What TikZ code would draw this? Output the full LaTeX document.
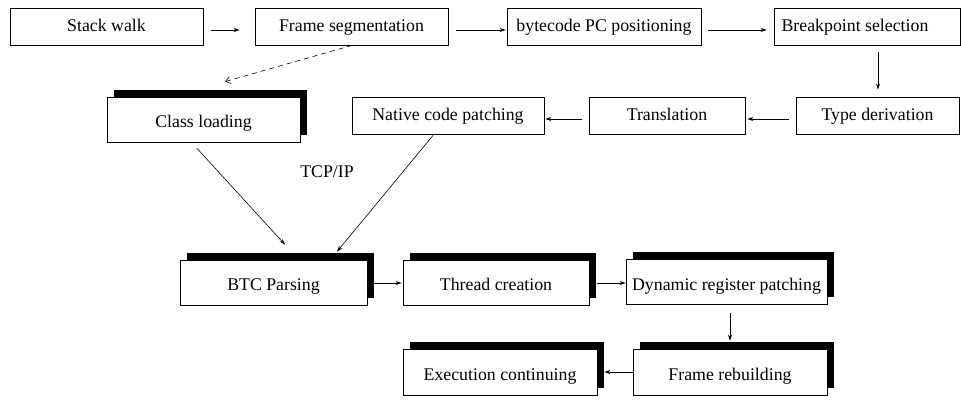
\documentclass[tikz,border=0pt]{standalone}
\usepackage{fontspec}
\setmainfont{Liberation Serif}
\newfontfamily\tms{Liberation Serif}
\usetikzlibrary{arrows.meta,shadows,calc}
\begin{document}
\begin{tikzpicture}[x=1pt,y=-1pt,
  txt/.style={font=\tms\fontsize{17.8}{20}\selectfont, text height=12pt, text depth=3pt},
  box/.style={txt, draw, line width=0.8pt, fill=white, rectangle, minimum height=37pt, inner sep=0pt},
  sbox/.style={box, minimum height=45pt, text height=16pt, text depth=0pt, general shadow={fill=black, shadow xshift=7pt, shadow yshift=7.5pt}},
  arr/.style={-{Stealth[length=6pt,width=4pt]}, line width=0.6pt},
  darr/.style={dashed, dash pattern=on 5pt off 4pt, -{Straight Barb[length=5pt,width=7pt]}, line width=0.6pt}]
\useasboundingbox (0,0) rectangle (961,399);
% top row
\node[box, minimum width=193pt] (stack) at (106.5,26.5) {Stack walk};
\node[box, minimum width=193pt] (frame) at (351.5,26.5) {Frame segmentation};
\node[box, minimum width=194pt] (bpc) at (604,26.5) {bytecode PC positioning};
\node[box, minimum width=186pt] (brk) at (867,26.5) {Breakpoint selection\hspace*{24pt}};
% second row
\node[sbox, minimum width=193pt] (cls) at (203.5,119.5) {Class loading};
\node[box, minimum width=192pt] (nat) at (448,115.5) {Native code patching};
\node[box, minimum width=156pt] (tra) at (667,115.5) {Translation};
\node[box, minimum width=163pt] (typ) at (877.5,115.5) {Type derivation};
% third row
\node[sbox, minimum width=187pt] (btc) at (273.5,282.5) {BTC Parsing};
\node[sbox, minimum width=186pt] (thr) at (496,282.5) {Thread creation};
\node[sbox, minimum width=201pt] (dyn) at (726.5,282) {Dynamic register patching};
% fourth row
\node[sbox, minimum width=194pt, minimum height=46pt] (exe) at (500,372) {Execution continuing};
\node[sbox, minimum width=194pt, minimum height=46pt] (frb) at (730,372) {Frame rebuilding};
% label
\node[txt, inner sep=0pt] (tcp) at (327,173) {TCP/IP};
% arrows
\draw[arr] ($(stack.east)+(8,3.5)$) -- ($(frame.west)+(-15,3.5)$);
\draw[arr] ($(frame.east)+(8,3.5)$) -- ($(bpc.west)+(-1,3.5)$);
\draw[arr] ($(bpc.east)+(7,3.5)$) -- ($(brk.west)+(-7,3.5)$);
\draw[arr] ($(brk.south)+(11,7)$) -- ($(typ.north)+(0.5,-7)$);
\draw[arr] ($(typ.west)+(-7,3.5)$) -- ($(tra.east)+(2,3.5)$);
\draw[arr] ($(tra.west)+(-7,3.5)$) -- ($(nat.east)+(1,3.5)$);
\draw[darr] ($(frame.south)+(0.5,0)$) -- ($(cls.north)+(21.5,-15)$);
\draw[arr] ($(cls.south)+(-6.5,6)$) -- ($(btc.north)+(11.5,-15)$);
\draw[arr] ($(nat.south)+(-15,1)$) -- ($(btc.north)+(63.5,-8)$);
\draw[arr] ($(btc.east)+(7,0.5)$) -- ($(thr.west)+(-1,0.5)$);
\draw[arr] ($(thr.east)+(8,0.5)$) -- ($(dyn.west)+(0,1)$);
\draw[arr] ($(dyn.south)+(3.5,8)$) -- ($(frb.north)+(0,-8)$);
\draw[arr] ($(frb.west)+(0,0)$) -- ($(exe.east)+(7,0)$);
\end{tikzpicture}
\end{document}
